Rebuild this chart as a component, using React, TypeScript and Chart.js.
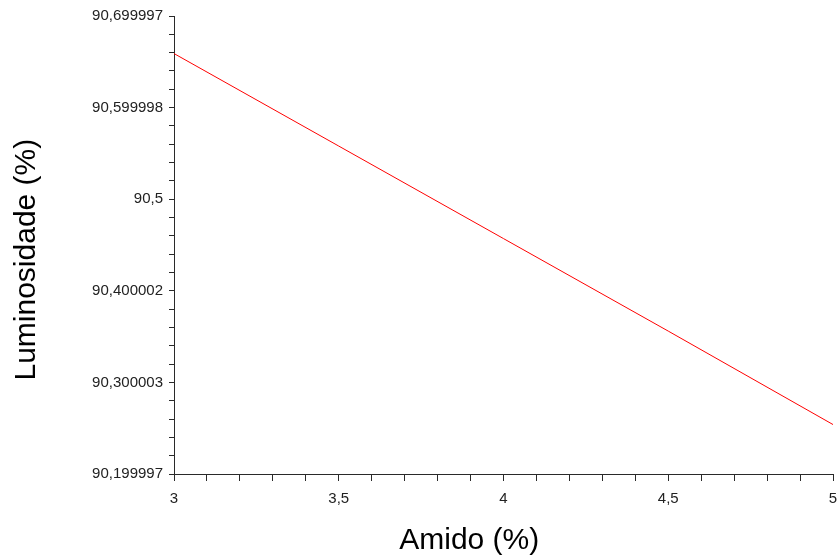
import React, { useEffect, useRef } from "react";
import { Chart, registerables } from "chart.js";

Chart.register(...registerables);

// Starch content (%) and measured luminosity (%)
const amido = [3, 3.5, 4, 4.5, 5];
const luminosidade = [90.659, 90.558, 90.457, 90.356, 90.254];

// Axis tick labels as printed on the axes
const xTickLabels = ["3", "3,5", "4", "4,5", "5"];
const yTickLabels = ["90,199997", "90,300003", "90,400002", "90,5", "90,599998", "90,699997"];

const xTitle = "Amido (%)";
const yTitle = "Luminosidade (%)";

const MINOR_PER_MAJOR = 5;
const AXIS_COLOR = "#2a2a2a";
const TEXT_COLOR = "#222";
const FONT = "'Liberation Sans', Arial, sans-serif";

const toNum = (s: string) => parseFloat(s.replace(",", "."));
const xMajor = xTickLabels.map(toNum);
const yMajor = yTickLabels.map(toNum);

// Major ticks plus evenly spaced minor ticks between them
function withMinor(majors: number[]) {
  const out: { value: number; major: boolean }[] = [];
  for (let i = 0; i < majors.length; i++) {
    out.push({ value: majors[i], major: true });
    if (i < majors.length - 1) {
      const step = (majors[i + 1] - majors[i]) / MINOR_PER_MAJOR;
      for (let k = 1; k < MINOR_PER_MAJOR; k++) {
        out.push({ value: majors[i] + step * k, major: false });
      }
    }
  }
  return out;
}

const titlesPlugin = {
  id: "axisTitles",
  afterDraw(chart: any) {
    const { ctx, chartArea } = chart;
    ctx.save();
    ctx.fillStyle = "#000";
    ctx.font = `30px ${FONT}`;
    ctx.textAlign = "center";
    ctx.textBaseline = "alphabetic";
    ctx.fillText(xTitle, chartArea.left + (chartArea.right - chartArea.left) * 0.448, 549);
    ctx.translate(35, chartArea.top + (chartArea.bottom - chartArea.top) * 0.532);
    ctx.rotate(-Math.PI / 2);
    ctx.fillText(yTitle, 0, 0);
    ctx.restore();
  },
};

export default function App() {
  const canvasRef = useRef<HTMLCanvasElement | null>(null);

  useEffect(() => {
    if (!canvasRef.current) return;
    const xTicks = withMinor(xMajor);
    const yTicks = withMinor(yMajor);

    const chart = new Chart(canvasRef.current, {
      type: "line",
      data: {
        datasets: [
          {
            data: amido.map((x, i) => ({ x, y: luminosidade[i] })),
            borderColor: "#ff0000",
            borderWidth: 1,
            pointRadius: 0,
            tension: 0,
            fill: false,
          },
        ],
      },
      options: {
        animation: false,
        responsive: false,
        maintainAspectRatio: false,
        layout: { padding: { top: 16, right: 4, left: 0, bottom: 0 } },
        plugins: {
          legend: { display: false },
          tooltip: { enabled: false },
        },
        scales: {
          x: {
            type: "linear",
            min: xMajor[0],
            max: xMajor[xMajor.length - 1],
            afterBuildTicks: (scale: any) => {
              scale.ticks = xTicks.map((t) => ({ value: t.value }));
            },
            afterFit: (scale: any) => {
              scale.height = 82;
              scale.paddingLeft = 0;
              scale.paddingRight = 0;
            },
            ticks: {
              autoSkip: false,
              maxRotation: 0,
              padding: 9,
              color: TEXT_COLOR,
              font: { family: FONT, size: 15 },
              callback: (_v: any, i: number) => {
                const t = xTicks[i];
                return t && t.major ? xTickLabels[xMajor.indexOf(t.value)] : "";
              },
            },
            grid: {
              drawOnChartArea: false,
              drawTicks: true,
              tickLength: 7,
              color: AXIS_COLOR,
              lineWidth: 1,
            },
            border: { display: true, color: AXIS_COLOR, width: 1 },
          },
          y: {
            type: "linear",
            min: yMajor[0],
            max: yMajor[yMajor.length - 1],
            afterBuildTicks: (scale: any) => {
              scale.ticks = yTicks.map((t) => ({ value: t.value }));
            },
            afterFit: (scale: any) => {
              scale.width = 174;
              scale.paddingTop = 0;
              scale.paddingBottom = 0;
            },
            ticks: {
              autoSkip: false,
              padding: 6,
              color: TEXT_COLOR,
              font: { family: FONT, size: 15 },
              callback: (_v: any, i: number) => {
                const t = yTicks[i];
                return t && t.major ? yTickLabels[yMajor.indexOf(t.value)] : "";
              },
            },
            grid: {
              drawOnChartArea: false,
              drawTicks: true,
              tickLength: 5,
              color: AXIS_COLOR,
              lineWidth: 1,
            },
            border: { display: true, color: AXIS_COLOR, width: 1 },
          },
        },
      },
      plugins: [titlesPlugin],
    } as any);

    return () => chart.destroy();
  }, []);

  return (
    <div style={{ position: "fixed", left: 0, top: 0, width: 837, height: 556, background: "#fff" }}>
      <canvas ref={canvasRef} width={837} height={556} style={{ width: 837, height: 556 }} />
    </div>
  );
}
